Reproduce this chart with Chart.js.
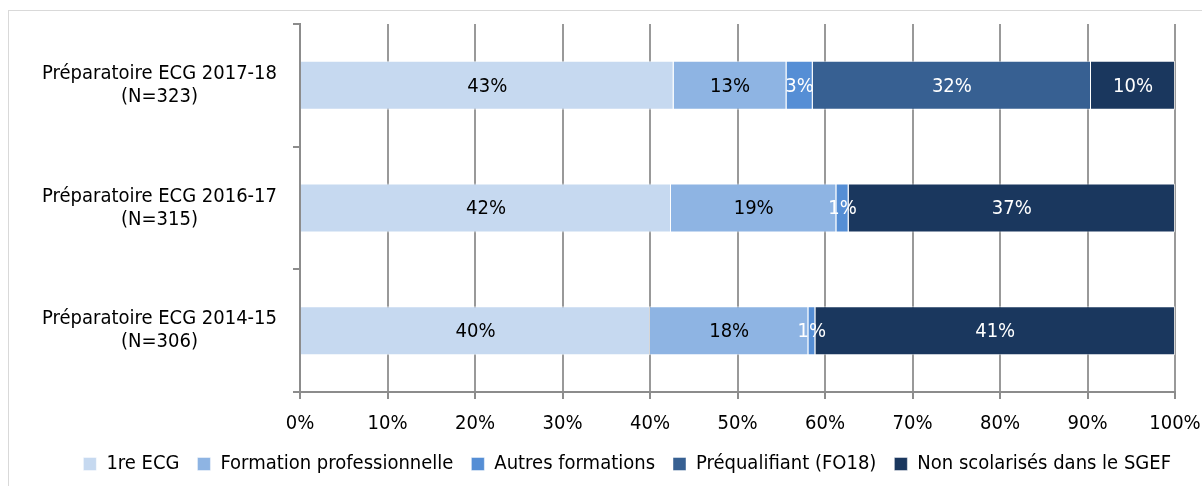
<!DOCTYPE html>
<html>
<head>
<meta charset="utf-8">
<script src="https://cdn.jsdelivr.net/npm/chart.js@4/dist/chart.umd.min.js"></script>
<style>
  html, body { margin: 0; padding: 0; background: #fff; }
  #wrap { position: relative; width: 1202px; height: 486px; }
  #frame { position: absolute; left: 8px; top: 10px; right: 0; bottom: 0; border-top: 1px solid #d9d9d9; border-left: 1px solid #d9d9d9; }
  canvas { position: absolute; left: 0; top: 0; }
</style>
</head>
<body>
<div id="wrap">
  <div id="frame"></div>
  <canvas id="chart" width="1202" height="486"></canvas>
</div>
<script>
// Catégories (axe vertical)
const categories = [
    ['Préparatoire ECG 2017-18', '(N=323)'],
    ['Préparatoire ECG 2016-17', '(N=315)'],
    ['Préparatoire ECG 2014-15', '(N=306)']
];

// Séries en pourcentage
const premiereECG = [42.7, 42.4, 40.0];
const formationPro = [12.9, 18.9, 18.1];
const autresFormations = [3.0, 1.4, 0.8];
const prequalifiant = [31.8, 0, 0];
const nonScolarises = [9.6, 37.3, 41.1];

const xTicks = [0, 10, 20, 30, 40, 50, 60, 70, 80, 90, 100];

const FONT = "'Liberation Sans Narrow', 'DejaVu Sans Condensed', 'Liberation Sans', sans-serif";

const series = [
    { label: '1re ECG', data: premiereECG, color: '#C6D9F0', text: '#000' },
    { label: 'Formation professionnelle', data: formationPro, color: '#8EB4E3', text: '#000' },
    { label: 'Autres formations', data: autresFormations, color: '#558ED5', text: '#fff' },
    { label: 'Préqualifiant (FO18)', data: prequalifiant, color: '#376092', text: '#fff' },
    { label: 'Non scolarisés dans le SGEF', data: nonScolarises, color: '#1A375E', text: '#fff' }
];

// Étiquettes de valeurs au centre de chaque segment
const valueLabels = {
    id: 'valueLabels',
    afterLayout(chart) {
        // décale légèrement la légende vers la droite, comme dans l'original
        if (chart.legend) {
            chart.legend.left += 14;
            chart.legend.right += 14;
        }
    },
    afterDatasetsDraw(chart) {
        const ctx = chart.ctx;
        ctx.save();
        ctx.font = '20px ' + FONT;
        ctx.textAlign = 'center';
        ctx.textBaseline = 'middle';
        chart.data.datasets.forEach((ds, i) => {
            const meta = chart.getDatasetMeta(i);
            meta.data.forEach((bar, j) => {
                const v = ds.data[j];
                if (!v) return;
                const left = Math.min(bar.x, bar.base);
                const w = Math.abs(bar.x - bar.base);
                ctx.fillStyle = series[i].text;
                ctx.fillText(Math.round(v) + '%', left + w / 2, bar.y + 1);
            });
        });
        ctx.restore();
    }
};

new Chart(document.getElementById('chart'), {
    type: 'bar',
    data: {
        labels: categories,
        datasets: series.map(s => ({
            label: s.label,
            data: s.data,
            backgroundColor: s.color,
            borderColor: 'rgba(255,255,255,0.6)',
            borderWidth: { top: 1, bottom: 1, left: 0, right: 1 },
            borderSkipped: false,
            categoryPercentage: 0.4,
            barPercentage: 1
        }))
    },
    options: {
        indexAxis: 'y',
        responsive: false,
        animation: false,
        layout: { padding: { top: 24, right: 27, left: 0, bottom: 2 } },
        scales: {
            x: {
                stacked: true,
                min: 0,
                max: 100,
                afterBuildTicks(scale) {
                    scale.ticks = xTicks.map(v => ({ value: v }));
                },
                afterFit(scale) {
                    scale.height = 44;
                    scale.paddingLeft = 0;
                    scale.paddingRight = 0;
                },
                border: { color: '#8c8c8c', width: 2 },
                grid: { color: '#999999', lineWidth: 2, tickLength: 7, tickColor: '#8c8c8c' },
                ticks: {
                    color: '#000',
                    padding: 13,
                    font: { family: FONT, size: 20 },
                    callback: v => v + '%'
                }
            },
            y: {
                stacked: true,
                afterFit(scale) {
                    scale.width = 300;
                    scale.paddingTop = 0;
                    scale.paddingBottom = 0;
                },
                border: { color: '#8c8c8c', width: 2 },
                grid: { drawOnChartArea: false, offset: true, tickLength: 7, tickColor: '#8c8c8c', lineWidth: 2 },
                ticks: {
                    color: '#000',
                    padding: 16,
                    crossAlign: 'center',
                    font: { family: FONT, size: 20, lineHeight: 1.15 }
                }
            }
        },
        plugins: {
            legend: {
                position: 'bottom',
                align: 'end',
                labels: {
                    color: '#000',
                    boxWidth: 13,
                    boxHeight: 13,
                    padding: 18,
                    font: { family: FONT, size: 20 }
                }
            },
            tooltip: { enabled: false }
        }
    },
    plugins: [valueLabels]
});
</script>
</body>
</html>
